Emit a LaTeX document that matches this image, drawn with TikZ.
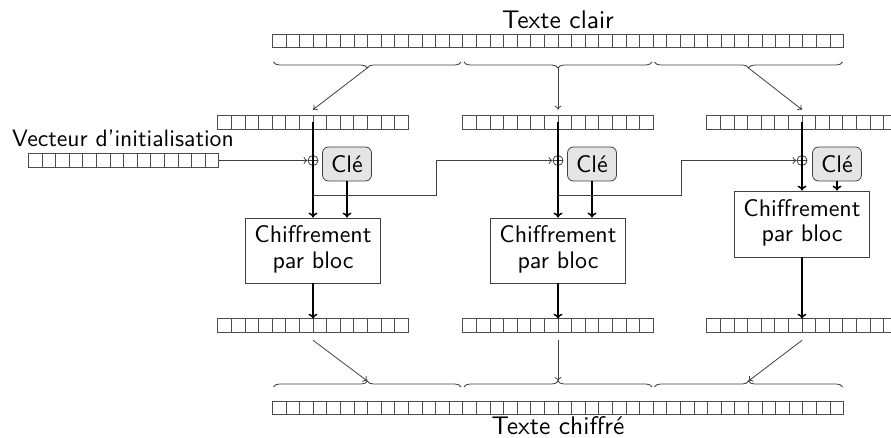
\documentclass[tikz,border=0pt]{standalone}
\usetikzlibrary{arrows.meta,decorations.pathreplacing}

% one row of n bit cells, named #1, centred at (#2,#3)
\newcommand\bitrow[4]{%
  \node[bitbar, minimum width=#4*13.6pt] (#1) at (#2,#3) {};
  \pgfmathtruncatemacro\lastcell{#4-1}%
  \foreach \k in {1,...,\lastcell}
    \draw[barline] ([xshift=\k*13.6pt]#1.south west) -- ([xshift=\k*13.6pt]#1.north west);
}
% 10pt sans text blown up to the size of the figure
\newcommand\bigtext[2][2.4]{\scalebox{#1}{\sffamily\fontsize{10}{10.7}\selectfont #2}}
\newcommand\twolines[2]{\bigtext{\begin{tabular}{@{}c@{}}#1\\#2\end{tabular}}}

\begin{document}
\begin{tikzpicture}[x=1pt,y=1pt,
  barline/.style={line width=0.8pt, draw=black!70},
  bitbar/.style={barline, rectangle, minimum height=13.6pt, inner sep=0pt, outer sep=0pt},
  thinarrow/.style={line width=0.8pt, draw=black!75, -{To[length=4pt,width=7pt]}},
  thinline/.style={line width=0.8pt, draw=black!75},
  thickarrow/.style={line width=1.5pt, draw=black, -{To[length=5pt,width=9pt]}},
  bracket/.style={line width=0.8pt, draw=black!75, decorate, decoration={brace, amplitude=6pt}},
  xor/.style={circle, draw=black!75, line width=0.8pt, minimum size=10pt, inner sep=0pt},
  keybox/.style={draw=black!75, line width=0.8pt, fill=black!10, rounded corners=6pt,
                 minimum width=49pt, minimum height=34pt, inner sep=0pt},
  cipher/.style={draw=black!75, line width=0.8pt, align=center, minimum width=135pt,
                 minimum height=65pt, inner sep=0pt},
  label/.style={inner sep=0pt, anchor=base}]

\clip (0,0) rectangle (891,-438);
\useasboundingbox (0,0) rectangle (891,-438);

% plaintext and its three blocks
\node[label] (lclair) at (558,-28.3) {\bigtext[2.55]{Texte clair}};
\bitrow{pt}{558}{-41}{42}
\draw[bracket] (461,-62) -- (273.5,-62);
\draw[bracket] (652,-62) -- (464,-62);
\draw[bracket] (842.5,-62) -- (654.5,-62);
\coordinate (tb1) at (367.25,-68);
\coordinate (tb2) at (558,-68);
\coordinate (tb3) at (748.5,-68);

\bitrow{p1}{313}{-122.5}{14}
\bitrow{p2}{558}{-122.5}{14}
\bitrow{p3}{802}{-122.5}{14}
\draw[thinarrow] (tb1) -- ([yshift=6pt]p1.north);
\draw[thinarrow] (tb2) -- ([yshift=6pt]p2.north);
\draw[thinarrow] (tb3) -- ([yshift=6pt]p3.north);

% initialisation vector
\node[label] (liv) at (123,-146.7) {\bigtext[2.37]{Vecteur d'initialisation}};
\bitrow{iv}{123.5}{-160.5}{14}

% xor gates
\node[xor] (x1) at (313,-160.5) {};
\node[xor] (x2) at (558,-160.5) {};
\node[xor] (x3) at (802,-160.5) {};
\foreach \x in {x1,x2,x3}
  \draw[thinline] (\x.west) -- (\x.east);

% keys
\node[keybox] (k1) at (347,-164) {\bigtext{Clé}};
\node[keybox] (k2) at (592,-164) {\bigtext{Clé}};
\node[keybox] (k3) at (837,-164) {\bigtext{Clé}};

% block ciphers
\node[cipher] (b1) at (313,-250.5) {\twolines{Chiffrement}{par bloc}};
\node[cipher] (b2) at (558,-250.5) {\twolines{Chiffrement}{par bloc}};
\node[cipher, minimum height=66pt] (b3) at (802,-224) {\twolines{Chiffrement}{par bloc}};

% data paths
\draw[thickarrow] (p1.center) -- (b1.north);
\draw[thickarrow] (p2.center) -- (b2.north);
\draw[thickarrow] (p3.center) -- (b3.north);
\draw[thickarrow] (k1.south) -- (k1.south |- b1.north);
\draw[thickarrow] (k2.south) -- (k2.south |- b2.north);
\draw[thickarrow] (k3.south) -- (k3.south |- b3.north);

\draw[thinarrow] (iv.east) -- (x1.west);
\coordinate (f1) at (313,-195.5);
\coordinate (f2) at (558,-195.5);
\draw[thinarrow] (f1) -- ++(123,0) |- (x2.west);
\draw[thinarrow] (f2) -- ++(123,0) |- (x3.west);

% ciphertext blocks
\bitrow{c1}{313}{-325.5}{14}
\bitrow{c2}{558}{-325.5}{14}
\bitrow{c3}{802}{-325.5}{14}
\draw[thickarrow] (b1.south) -- (c1.north);
\draw[thickarrow] (b2.south) -- (c2.north);
\draw[thickarrow] (b3.south) -- (c3.north);

% reassembled ciphertext
\draw[bracket] (273.5,-387) -- (461,-387);
\draw[bracket] (464,-387) -- (652,-387);
\draw[bracket] (654.5,-387) -- (842.5,-387);
\coordinate (bb1) at (367.25,-381);
\coordinate (bb2) at (558,-381);
\coordinate (bb3) at (748.5,-381);
\draw[thinarrow] ([yshift=-8pt]c1.south) -- (bb1);
\draw[thinarrow] ([yshift=-8pt]c2.south) -- (bb2);
\draw[thinarrow] ([yshift=-8pt]c3.south) -- (bb3);

\bitrow{ct}{558}{-408}{42}
\node[label] (lchiffre) at (558,-434) {\bigtext[2.55]{Texte chiffré}};

\end{tikzpicture}
\end{document}
